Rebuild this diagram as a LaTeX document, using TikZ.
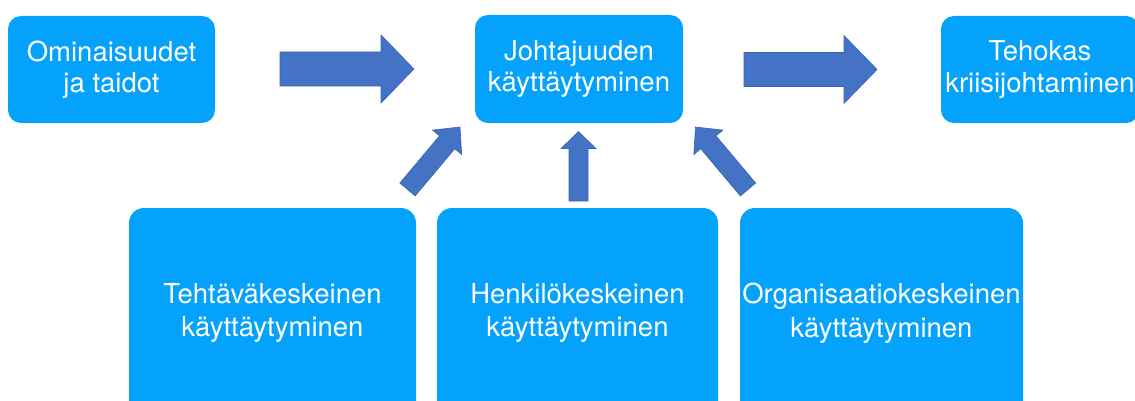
\documentclass[tikz,border=0pt]{standalone}
\usepackage{fontspec}
\setmainfont{TeX Gyre Heros}
\usetikzlibrary{calc}

\definecolor{boxblue}{HTML}{04A2FB}
\definecolor{arrowfill}{HTML}{4472C4}
\definecolor{arrowline}{HTML}{3A64AE}

\tikzset{
  box/.style={fill=boxblue, rounded corners=13pt, text=white, align=center,
    font=\fontsize{27.5}{31.5}\selectfont, inner sep=0pt},
  lowbox/.style={box, rounded corners=15pt, font=\fontsize{27.5}{33.5}\selectfont},
  blockarrow/.style={fill=arrowfill, draw=arrowline, line width=0.6pt, line join=miter},
}

% block arrow: tail, tip, shaft half width, head half width, head length
\newcommand\blockarrow[5]{%
  \coordinate (ba-h) at ($(#2)!#5!(#1)$);
  \filldraw[blockarrow]
    ($(#1)!#3!90:(#2)$) -- ($(ba-h)!#3!90:(#2)$) -- ($(ba-h)!#4!90:(#2)$) -- (#2)
    -- ($(ba-h)!#4!-90:(#2)$) -- ($(ba-h)!#3!-90:(#2)$) -- ($(#1)!#3!-90:(#2)$) -- cycle;
}

\begin{document}
\begin{tikzpicture}[x=1pt, y=-1pt]
  \path[use as bounding box, clip] (0,0) rectangle (1135,401);

  % upper row
  \node[box, minimum width=207pt, minimum height=107pt] (traits) at (111.5,69.5)
    {Ominaisuudet\\ja taidot};
  \node[box, minimum width=208pt, minimum height=108pt] (lead) at (579,69)
    {Johtajuuden\\käyttäytyminen};
  \node[box, minimum width=198pt, minimum height=107pt] (crisis) at (1040,69.5)
    {Tehokas\\kriisijohtaminen};

  % lower row
  \node[lowbox, minimum width=287pt, minimum height=210pt] (task) at (272.5,313)
    {Tehtäväkeskeinen\\käyttäytyminen};
  \node[lowbox, minimum width=281pt, minimum height=210pt] (person) at (577.5,313)
    {Henkilökeskeinen\\käyttäytyminen};
  \node[lowbox, minimum width=283pt, minimum height=210pt] (org) at (881.5,313)
    {Organisaatiokeskeinen\\käyttäytyminen};

  % arrow end points
  \coordinate (a1t) at (280,69);    \coordinate (a1h) at (414,69);
  \coordinate (a2t) at (744,69.5);  \coordinate (a2h) at (877,69.5);
  \coordinate (a3t) at (407.5,189.5); \coordinate (a3h) at (460,127);
  \coordinate (a4t) at (578.5,201);   \coordinate (a4h) at (578.5,131.5);
  \coordinate (a5t) at (748,189.5);   \coordinate (a5h) at (695.5,127);

  \blockarrow{a1t}{a1h}{17pt}{34pt}{33pt}
  \blockarrow{a2t}{a2h}{17pt}{34pt}{33pt}
  \blockarrow{a3t}{a3h}{10pt}{19pt}{20pt}
  \blockarrow{a4t}{a4h}{9.5pt}{17.5pt}{17pt}
  \blockarrow{a5t}{a5h}{10pt}{19pt}{20pt}
\end{tikzpicture}
\end{document}
